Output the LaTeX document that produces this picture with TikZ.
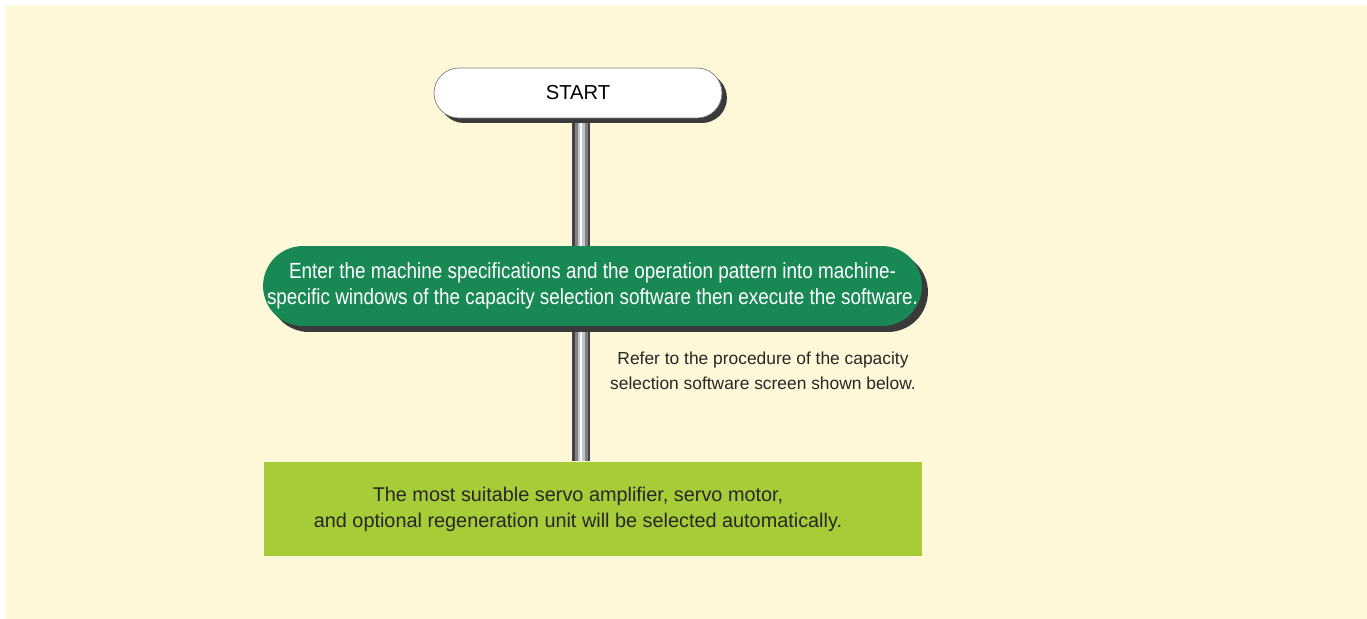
\documentclass[tikz,border=0pt]{standalone}
\usepackage{fontspec}
\setmainfont{Liberation Sans}
\newfontfamily\narrowfont[FakeStretch=0.86]{Liberation Sans}
\usetikzlibrary{positioning,shadows,backgrounds}
\definecolor{cream}{RGB}{255,248,216}
\definecolor{flowgreen}{RGB}{24,136,84}
\definecolor{limegreen}{RGB}{166,205,56}
\definecolor{shadowgray}{RGB}{58,58,58}
\definecolor{pipedark}{RGB}{66,66,70}
\definecolor{pipemid}{RGB}{128,128,134}
\definecolor{pipelight}{RGB}{196,196,204}

\begin{document}
\begin{tikzpicture}[x=0.02cm, y=-0.02cm,
start_pill/.style={rectangle, rounded corners=0.5cm, draw=gray, fill=white, minimum width=5.76cm, minimum height=1cm, inner sep=0pt, drop shadow={shadow xshift=0.1cm, shadow yshift=-0.1cm, fill=shadowgray, opacity=1}, font=\fontsize{11.5}{13}\selectfont},
green_pill/.style={rectangle, rounded corners=0.8cm, fill=flowgreen, text=white, minimum width=13.18cm, minimum height=1.6cm, inner sep=0pt, align=center, drop shadow={shadow xshift=0.12cm, shadow yshift=-0.12cm, fill=shadowgray, opacity=1}, font=\narrowfont\fontsize{12.5}{14.8}\selectfont},
result_box/.style={rectangle, fill=limegreen, text=black!85, minimum width=13.16cm, minimum height=1.9cm, inner sep=0pt, align=center, font=\fontsize{11.3}{14.8}\selectfont},
note_text/.style={align=center, text=black!85, inner sep=0pt, font=\fontsize{9.9}{14.2}\selectfont},
pipe/.style={draw=pipedark, line width=0.36cm, postaction={draw=pipemid, line width=0.26cm}, postaction={draw=pipelight, line width=0.14cm}, postaction={draw=white, line width=0.05cm}}
]
\useasboundingbox (0,0) rectangle (1367,619);

\node[start_pill](start) at (578,93) {START};
\node[green_pill](enter_specs) at (592.5,286) {Enter the machine specifications and the operation pattern into machine-\\specific windows of the capacity selection software then execute the software.};
\node[result_box](selected) at (593,509) {The most suitable servo amplifier, servo motor,\hspace*{0.6cm}\\and optional regeneration unit will be selected automatically.\hspace*{0.6cm}};
\node[note_text](refer_note) at (763,371) {Refer to the procedure of the capacity\\selection software screen shown below.};

\coordinate (pipe_x) at (581,0);

\begin{scope}[on background layer]
\fill[cream] (6,5) rectangle (1367,619);
\draw[pipe](start.south -| pipe_x) -- (enter_specs.north -| pipe_x);
\draw[pipe](enter_specs.south -| pipe_x) -- (selected.north -| pipe_x);
\end{scope}
\end{tikzpicture}
\end{document}
